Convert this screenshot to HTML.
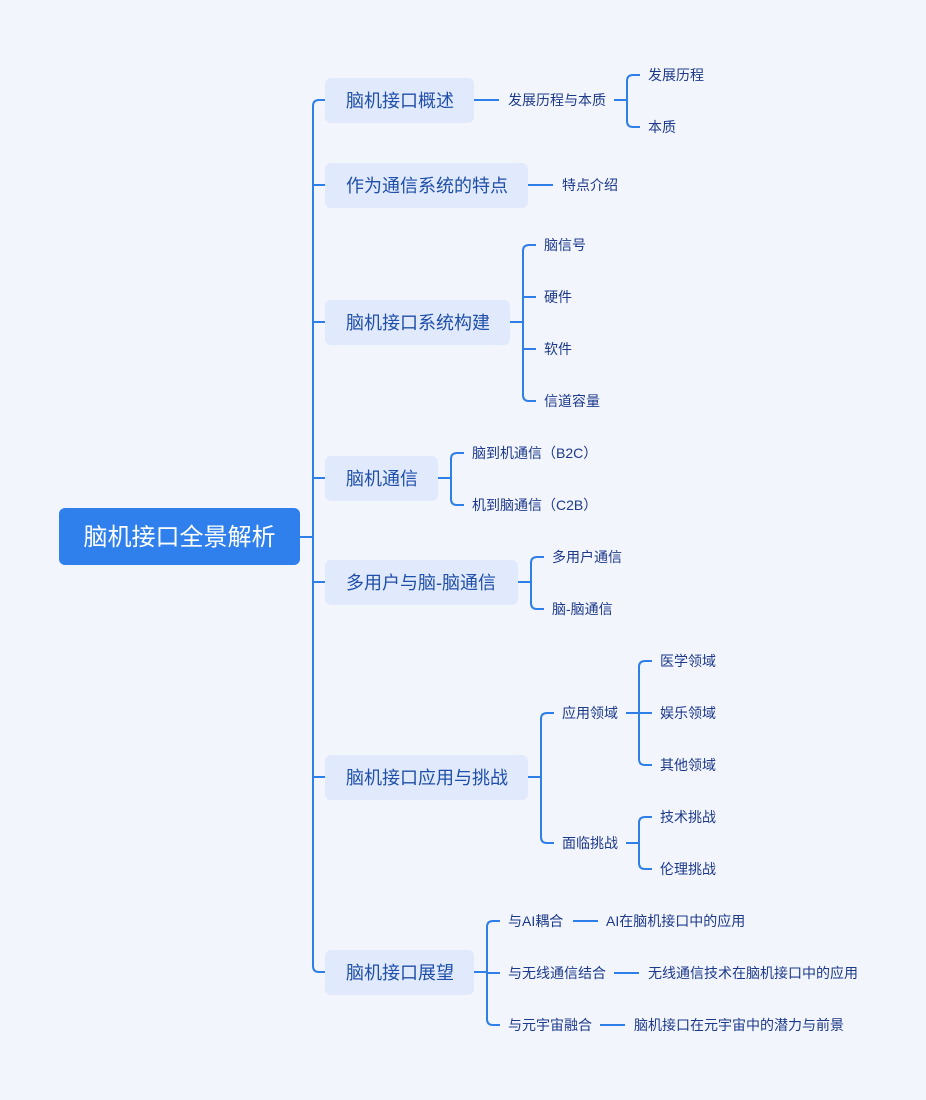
<!DOCTYPE html>
<html><head><meta charset="utf-8"><style>
html,body{margin:0;padding:0;background:#f3f5fd;}
svg{display:block}
text{font-family:"Liberation Sans","Noto Sans CJK SC",sans-serif;}
.n{fill:#e1e9fc}
.t1{font-size:18px;fill:#1f4fa8}
.t2{font-size:14px;fill:#1d3a8a}
.l{fill:none;stroke:#2f7fe8;stroke-width:2}
</style></head><body>
<svg width="926" height="1100" viewBox="0 0 926 1100">
<rect width="926" height="1100" fill="#f3f5fd"/>
<g class="l">
<!-- trunk -->
<path d="M300 537H313"/>
<path d="M325 100H319Q313 100 313 106V966Q313 972 319 972H325"/>
<path d="M313 185H325M313 322H325M313 478H325M313 582H325M313 777H325"/>
<!-- 概述 -->
<path d="M474 100H499M614 100H627"/>
<path d="M640 75H633Q627 75 627 81V121Q627 127 633 127H640"/>
<!-- 特点 -->
<path d="M528 185H553"/>
<!-- 构建 -->
<path d="M510 322H523"/>
<path d="M536 245H529Q523 245 523 251V395Q523 401 529 401H536M523 297H536M523 349H536"/>
<!-- 通信 -->
<path d="M438 478H451"/>
<path d="M464 453H457Q451 453 451 459V499Q451 505 457 505H464"/>
<!-- 多用户 -->
<path d="M518 582H531"/>
<path d="M544 557H537Q531 557 531 563V603Q531 609 537 609H544"/>
<!-- 应用 -->
<path d="M528 777H541"/>
<path d="M554 713H547Q541 713 541 719V837Q541 843 547 843H554"/>
<path d="M626 713H639M652 661H645Q639 661 639 667V759Q639 765 645 765H652M639 713H652"/>
<path d="M626 843H639M652 817H645Q639 817 639 823V863Q639 869 645 869H652"/>
<!-- 展望 -->
<path d="M474 972H487"/>
<path d="M500 921H493Q487 921 487 927V1019Q487 1025 493 1025H500M487 973H500"/>
<path d="M573 921H598M614 973H639M600 1025H625"/>
</g>
<rect x="59" y="508" width="241" height="57" rx="6" fill="#2f80ed"/>
<text x="179.5" y="545" font-size="24" fill="#fff" text-anchor="middle">脑机接口全景解析</text>
<g class="t1">
<rect class="n" x="325" y="78" width="149" height="45" rx="6"/><text x="346" y="107">脑机接口概述</text>
<rect class="n" x="325" y="163" width="203" height="45" rx="6"/><text x="346" y="192">作为通信系统的特点</text>
<rect class="n" x="325" y="300" width="185" height="45" rx="6"/><text x="346" y="329">脑机接口系统构建</text>
<rect class="n" x="325" y="456" width="113" height="45" rx="6"/><text x="346" y="485">脑机通信</text>
<rect class="n" x="325" y="560" width="193" height="45" rx="6"/><text x="346" y="589">多用户与脑-脑通信</text>
<rect class="n" x="325" y="755" width="203" height="45" rx="6"/><text x="346" y="784">脑机接口应用与挑战</text>
<rect class="n" x="325" y="950" width="149" height="45" rx="6"/><text x="346" y="979">脑机接口展望</text>
</g>
<g class="t2">
<text x="508" y="105">发展历程与本质</text>
<text x="648" y="80">发展历程</text>
<text x="648" y="132">本质</text>
<text x="562" y="190">特点介绍</text>
<text x="544" y="250">脑信号</text>
<text x="544" y="302">硬件</text>
<text x="544" y="354">软件</text>
<text x="544" y="406">信道容量</text>
<text x="472" y="458">脑到机通信（B2C）</text>
<text x="472" y="510">机到脑通信（C2B）</text>
<text x="552" y="562">多用户通信</text>
<text x="552" y="614">脑-脑通信</text>
<text x="562" y="718">应用领域</text>
<text x="660" y="666">医学领域</text>
<text x="660" y="718">娱乐领域</text>
<text x="660" y="770">其他领域</text>
<text x="562" y="848">面临挑战</text>
<text x="660" y="822">技术挑战</text>
<text x="660" y="874">伦理挑战</text>
<text x="508" y="926">与AI耦合</text>
<text x="606" y="926">AI在脑机接口中的应用</text>
<text x="508" y="978">与无线通信结合</text>
<text x="648" y="978">无线通信技术在脑机接口中的应用</text>
<text x="508" y="1030">与元宇宙融合</text>
<text x="634" y="1030">脑机接口在元宇宙中的潜力与前景</text>
</g>
</svg>
</body></html>
